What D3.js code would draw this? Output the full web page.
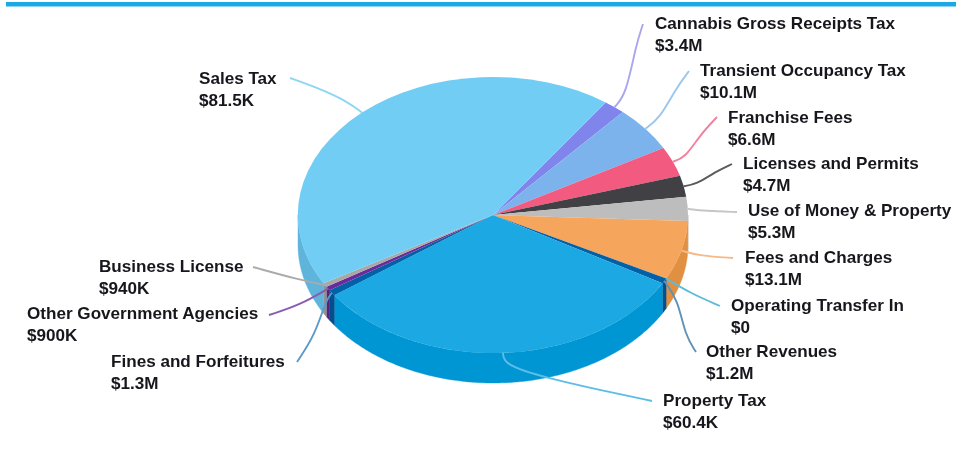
<!DOCTYPE html>
<html><head><meta charset="utf-8">
<script src="https://cdn.jsdelivr.net/npm/d3@7"></script>
<style>html,body{margin:0;padding:0;background:#fff;overflow:hidden}svg{display:block}
text{font-family:"Liberation Sans",Arial,sans-serif;font-weight:700;font-size:17.1px;fill:#17171c}</style>
</head><body><svg id="c" width="956" height="454"></svg>
<script>
// Data (clockwise, starting with Cannabis)
const categories=["Cannabis Gross Receipts Tax","Transient Occupancy Tax","Franchise Fees","Licenses and Permits","Use of Money & Property","Fees and Charges","Operating Transfer In","Other Revenues","Property Tax","Fines and Forfeitures","Other Government Agencies","Business License","Sales Tax"];
const values=[3.4,10.1,6.6,4.7,5.3,13.1,0,1.2,60.4,1.3,0.9,0.94,81.5];
const valueLabels=["$3.4M","$10.1M","$6.6M","$4.7M","$5.3M","$13.1M","$0","$1.2M","$60.4K","$1.3M","$900K","$940K","$81.5K"];
const topColors=["#7F85EA","#7CB3EC","#F25A80","#3F3F44","#BDBDBD","#F6A55C","#4FB4D8","#0060A8","#1AA9E3","#0060A8","#6A2C9A","#A8A8A8","#72CDF4"];
const sideColors=["#6F75D0","#6C9FD4","#D84E70","#333338","#A5A5A5","#E0903F","#4FB4D8","#00508F","#0095D3","#00508F","#55207F","#929292","#5FB4DC"];
const lineColors=["#A9A6EE","#9CC6EE","#F0829F","#5A5A5E","#C6C6C6","#F6B98A","#5DBBDC","#5E93B8","#5DBDE6","#5B9AC8","#8A5CB0","#ABABAB","#8ED6F2"];
// Layout (label anchors and leader tails, no data)
const labelX=[655,700,728,743,748,745,731,706,663,111,27,99,199];
const labelY=[29,76,123,169,216,263,311,357,406,367,319,272,84];
const tails=[[[626,95],[636,45],[643,24]],[[660,118],[675,90],[689,71]],[[685,158],[700,135],[717,117]],[[697,184],[715,172],[732,164]],[[705,211],[737,212]],[[700,256],[733,258]],[[690,293],[720,306]],[[678,300],[685,335],[696,352]],[[504,365],[547,378],[600,390],[652,401]],[[326,300],[315,335],[297,362]],[[300,305],[269,315]],[[300,280],[253,267]],[[345,100],[318,88],[290,78]]];
const cx=493,cy=215,rx=195,ry=138,depth=30,lineGap=22;
const startDeg=35.3;
const TAU=Math.PI*2;

const svg=d3.select("#c");
const defs=svg.append("defs");
defs.append("filter").attr("id","soft").attr("filterUnits","userSpaceOnUse").attr("x",0).attr("y",0).attr("width",956).attr("height",454)
  .append("feGaussianBlur").attr("stdDeviation",0.6);
const root=svg.append("g").attr("filter","url(#soft)");
root.append("rect").attr("x",6).attr("y",2).attr("width",950).attr("height",4.5).attr("fill","#1AA9E3");

const pie=d3.pie().sort(null).value(d=>d).startAngle(startDeg/180*Math.PI).endAngle(startDeg/180*Math.PI+TAU);
const arcs=pie(values);
const px=a=>cx+rx*Math.sin(a), py=a=>cy-ry*Math.cos(a);
const unit=d3.arc().innerRadius(0).outerRadius(1);

// Extruded sides: only the front half of the rim (90deg..270deg) is visible
const sides=root.append("g");
arcs.forEach((d,i)=>{
  const a0=Math.max(d.startAngle,Math.PI/2),a1=Math.min(d.endAngle,Math.PI*1.5);
  if(a1<=a0)return;
  const st=d3.range(a0,a1,0.01).concat([a1]);
  const pts=st.map(t=>[px(t),py(t)]).concat(st.slice().reverse().map(t=>[px(t),py(t)+depth]));
  sides.append("path").attr("d",d3.line()(pts)+"Z").attr("fill",sideColors[i]).attr("stroke",sideColors[i]).attr("stroke-width",0.4);
});
// Top face
const face=root.append("g").attr("transform",`translate(${cx},${cy}) scale(${rx},${ry})`);
face.selectAll("path").data(arcs).join("path").attr("d",unit).attr("fill",(d,i)=>topColors[i]);

// Leaders
const leader=d3.line().curve(d3.curveBasis);
root.append("g").selectAll("path").data(arcs).join("path")
  .attr("fill","none").attr("stroke-width",1.9).attr("stroke",(d,i)=>lineColors[i])
  .attr("d",(d,i)=>{const m=(d.startAngle+d.endAngle)/2;const s=[px(m),py(m)];const t=tails[i];return leader([s,s,...t,t[t.length-1]]);});

// Labels
const lab=root.append("g").selectAll("text").data(categories).join("text").attr("x",(d,i)=>labelX[i]).attr("y",(d,i)=>labelY[i]);
lab.append("tspan").text(d=>d);
lab.append("tspan").attr("x",(d,i)=>labelX[i]).attr("dy",lineGap).text((d,i)=>valueLabels[i]);
</script></body></html>
